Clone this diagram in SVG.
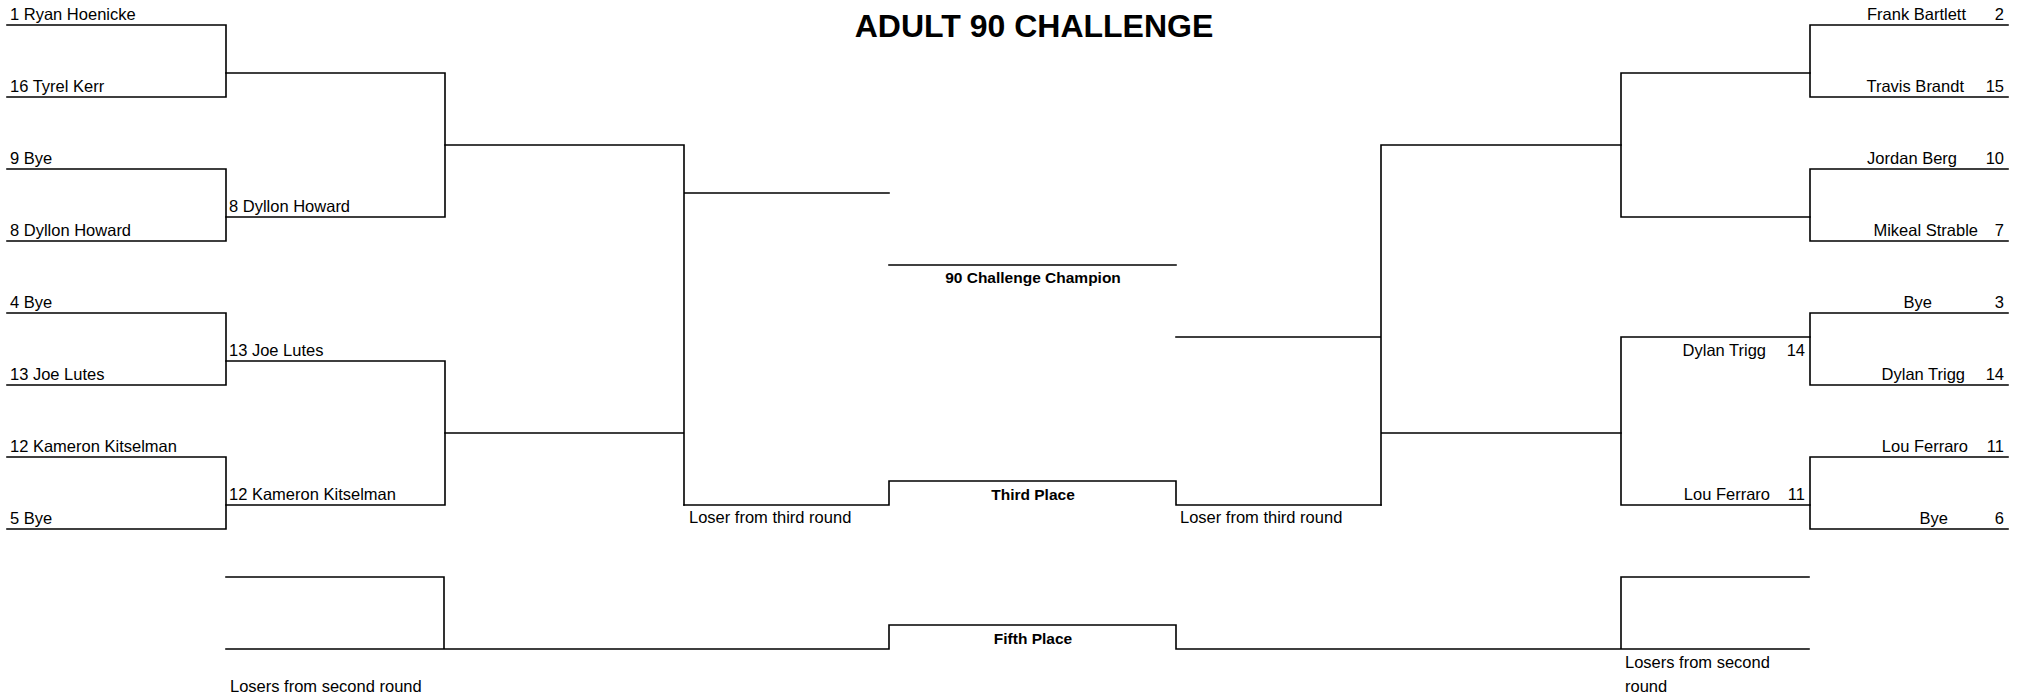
<svg xmlns="http://www.w3.org/2000/svg" width="2025" height="699" viewBox="0 0 2025 699">
<style>
  .ln { fill: none; stroke: #000; stroke-width: 1.6; stroke-linecap: square; }
  text { font-family: "Liberation Sans", Arial, sans-serif; fill: #000; }
  .t { font-size: 16.5px; }
  .te { font-size: 16.5px; text-anchor: end; }
  .b { font-size: 15.5px; font-weight: bold; text-anchor: middle; }
  .title { font-size: 32px; font-weight: bold; text-anchor: middle; }
</style>
<rect width="2025" height="699" fill="#fff"/>
<g id="title"><text class="title" x="1034" y="37">ADULT 90 CHALLENGE</text></g>

<g id="connectors">
  <!-- left round 1 -->
  <path class="ln" d="M7 25H226V97H7 M7 169H226V241H7 M7 313H226V385H7 M7 457H226V529H7"/>
  <!-- left round 2 -->
  <path class="ln" d="M226 73H445V217H226 M226 361H445V505H226"/>
  <!-- left round 3 -->
  <path class="ln" d="M445 145H684V505 M445 433H684 M684 193H889"/>
  <!-- champion line -->
  <path class="ln" d="M889 265H1176"/>
  <!-- third place -->
  <path class="ln" d="M684 505H889V481H1176V505H1381"/>
  <!-- right round 3 -->
  <path class="ln" d="M1176 337H1381 M1381 145V505 M1381 145H1621 M1381 433H1621"/>
  <!-- right round 2 -->
  <path class="ln" d="M1810 73H1621V217H1810 M1810 337H1621V505H1810"/>
  <!-- right round 1 -->
  <path class="ln" d="M2008 25H1810V97H2008 M2008 169H1810V241H2008 M2008 313H1810V385H2008 M2008 457H1810V529H2008"/>
  <!-- fifth place -->
  <path class="ln" d="M226 577H444V649 M226 649H889V625H1176V649H1809 M1809 577H1621V649"/>
</g>

<g id="left-r1">
  <g id="l1"><text class="t" x="10" y="20">1 Ryan Hoenicke</text></g>
  <g id="l16"><text class="t" x="10" y="92">16 Tyrel Kerr</text></g>
  <g id="l9"><text class="t" x="10" y="164">9 Bye</text></g>
  <g id="l8"><text class="t" x="10" y="236">8 Dyllon Howard</text></g>
  <g id="l4"><text class="t" x="10" y="308">4 Bye</text></g>
  <g id="l13"><text class="t" x="10" y="380">13 Joe Lutes</text></g>
  <g id="l12"><text class="t" x="10" y="452">12 Kameron Kitselman</text></g>
  <g id="l5"><text class="t" x="10" y="524">5 Bye</text></g>
</g>
<g id="left-r2">
  <g id="l2a"><text class="t" x="229" y="212">8 Dyllon Howard</text></g>
  <g id="l2b"><text class="t" x="229" y="356">13 Joe Lutes</text></g>
  <g id="l2c"><text class="t" x="229" y="500">12 Kameron Kitselman</text></g>
</g>

<g id="right-r1">
  <g id="r2"><text class="te" x="1966" y="20">Frank Bartlett</text><text class="te" x="2004" y="20">2</text></g>
  <g id="r15"><text class="te" x="1964" y="92">Travis Brandt</text><text class="te" x="2004" y="92">15</text></g>
  <g id="r10"><text class="te" x="1957" y="164">Jordan Berg</text><text class="te" x="2004" y="164">10</text></g>
  <g id="r7"><text class="te" x="1978" y="236">Mikeal Strable</text><text class="te" x="2004" y="236">7</text></g>
  <g id="r3"><text class="te" x="1932" y="308">Bye</text><text class="te" x="2004" y="308">3</text></g>
  <g id="r14"><text class="te" x="1965" y="380">Dylan Trigg</text><text class="te" x="2004" y="380">14</text></g>
  <g id="r11"><text class="te" x="1968" y="452">Lou Ferraro</text><text class="te" x="2004" y="452">11</text></g>
  <g id="r6"><text class="te" x="1948" y="524">Bye</text><text class="te" x="2004" y="524">6</text></g>
</g>
<g id="right-r2">
  <g id="r2a"><text class="te" x="1766" y="356">Dylan Trigg</text><text class="te" x="1805" y="356">14</text></g>
  <g id="r2b"><text class="te" x="1770" y="500">Lou Ferraro</text><text class="te" x="1805" y="500">11</text></g>
</g>

<g id="champion"><text class="b" x="1033" y="283">90 Challenge Champion</text></g>
<g id="third-place"><text class="b" x="1033" y="500">Third Place</text></g>
<g id="fifth-place"><text class="b" x="1033" y="644">Fifth Place</text></g>
<g id="loser-third-left"><text class="t" x="689" y="523">Loser from third round</text></g>
<g id="loser-third-right"><text class="t" x="1180" y="523">Loser from third round</text></g>
<g id="losers-second-left"><text class="t" x="230" y="692">Losers from second round</text></g>
<g id="losers-second-right"><text class="t" x="1625" y="668">Losers from second</text><text class="t" x="1625" y="692">round</text></g>
</svg>
